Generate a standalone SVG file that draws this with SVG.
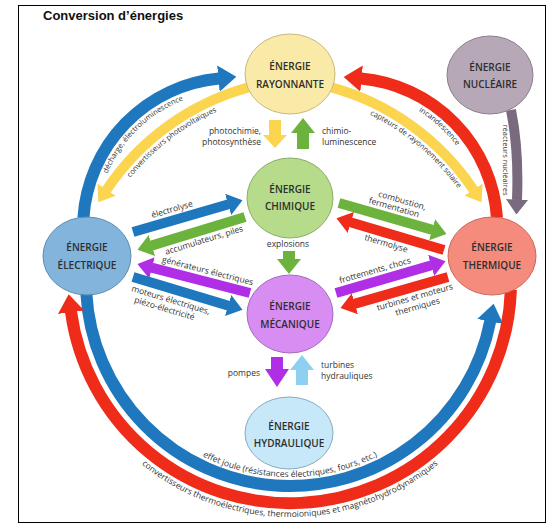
<svg xmlns="http://www.w3.org/2000/svg" width="552" height="530" viewBox="0 0 552 530">
<style>
.c{fill:none;stroke-linecap:butt}
.w12{stroke-width:12}
.w10{stroke-width:10}
.blue{stroke:#1f78be}
.red{stroke:#ef2b1a}
.yel{stroke:#fbd54f}
.grn{stroke:#6cb33e}
.pur{stroke:#b02fe6}
.gry{stroke:#7a6a7e}
.nt{font-family:"Open Sans","Liberation Sans",sans-serif;font-weight:600;font-size:10px;fill:#2e2e2e;text-anchor:middle}
.lb{font-family:"Open Sans","Liberation Sans",sans-serif;font-size:8.5px;fill:#333}
.sm{font-size:7.5px}
.mid{text-anchor:middle}
.end{text-anchor:end}
.node{stroke-width:1}
</style>
<defs>
<marker id="mBlue" viewBox="0 0 15 22" refX="0.5" refY="11" markerWidth="1.5" markerHeight="2.2" orient="auto" markerUnits="strokeWidth"><path d="M0,0 L15,11 L0,22 z" fill="#1f78be"/></marker>
<marker id="mRed" viewBox="0 0 15 22" refX="0.5" refY="11" markerWidth="1.5" markerHeight="2.2" orient="auto" markerUnits="strokeWidth"><path d="M0,0 L15,11 L0,22 z" fill="#ef2b1a"/></marker>
<marker id="mYel" viewBox="0 0 15 22" refX="0.5" refY="11" markerWidth="1.5" markerHeight="2.2" orient="auto" markerUnits="strokeWidth"><path d="M0,0 L15,11 L0,22 z" fill="#fbd54f"/></marker>
<marker id="mGrn" viewBox="0 0 15 22" refX="0.5" refY="11" markerWidth="1.5" markerHeight="2.2" orient="auto" markerUnits="strokeWidth"><path d="M0,0 L15,11 L0,22 z" fill="#6cb33e"/></marker>
<marker id="mPur" viewBox="0 0 15 22" refX="0.5" refY="11" markerWidth="1.5" markerHeight="2.2" orient="auto" markerUnits="strokeWidth"><path d="M0,0 L15,11 L0,22 z" fill="#b02fe6"/></marker>
<marker id="mGry" viewBox="0 0 15 22" refX="0.5" refY="11" markerWidth="1.5" markerHeight="2.2" orient="auto" markerUnits="strokeWidth"><path d="M0,0 L15,11 L0,22 z" fill="#7a6a7e"/></marker>
<path id="tpDecharge" d="M 102.8 185.5 A 137 137 0 0 1 195.3 96.1"/>
<path id="tpPhoto" d="M 108.5 209.5 A 238 238 0 0 1 253 98.6"/>
<path id="tpIncand" d="M 381 95.1 A 137 137 0 0 1 476 181.8"/>
<path id="tpCapteurs" d="M 327 98.6 A 238 238 0 0 1 481.1 227.9"/>
<path id="tpJoule" d="M 152.1 419.9 A 195 195 0 0 0 427.9 419.9"/>
<path id="tpConv" d="M 110 433.1 A 235 235 0 0 0 470 433.1"/>
</defs>
<rect x="18.5" y="5.5" width="527" height="517" fill="#fff" stroke="#000" stroke-width="1"/>
<text x="43" y="20" font-family="Liberation Sans, Arial, sans-serif" font-weight="bold" font-size="13" fill="#111">Conversion d’énergies</text>

<g id="connectors">
<path class="c w12 blue" d="M 83.4 218 A 150 150 0 0 1 219 78.5" marker-end="url(#mBlue)"/>
<path class="c w10 yel" d="M 248.6 87.4 A 250 250 0 0 0 106.4 190.1" marker-end="url(#mYel)"/>
<path class="c w12 red" d="M 497 218 A 150 150 0 0 0 361 78.5" marker-end="url(#mRed)"/>
<path class="c w10 yel" d="M 331.4 87.4 A 250 250 0 0 1 473.6 190.1" marker-end="url(#mYel)"/>
<path class="c w12 blue" d="M 86.3 292.7 A 204 204 0 0 0 490.3 320.8" marker-end="url(#mBlue)"/>
<path class="c w12 red" d="M 510.9 289.7 A 221 221 0 0 1 71 311.6" marker-end="url(#mRed)"/>
<path class="c w10 gry" d="M 511 110 Q 519 150 517 200" marker-end="url(#mGry)"/>
<path class="c w10 blue" d="M 133 232 L 228.6 204.2" marker-end="url(#mBlue)"/>
<path class="c w10 grn" d="M 245 217 L 151.4 245.6" marker-end="url(#mGrn)"/>
<path class="c w10 pur" d="M 250 293 L 151.5 267.7" marker-end="url(#mPur)"/>
<path class="c w10 blue" d="M 133 277 L 228.6 305.7" marker-end="url(#mBlue)"/>
<path class="c w10 grn" d="M 339 203 L 432.6 229.9" marker-end="url(#mGrn)"/>
<path class="c w10 red" d="M 444 250 L 350.4 222.3" marker-end="url(#mRed)"/>
<path class="c w10 pur" d="M 336 293 L 431.6 265.2" marker-end="url(#mPur)"/>
<path class="c w10 red" d="M 448 277 L 354.4 303.9" marker-end="url(#mRed)"/>
<polygon points="269,120 281,120 281,135 287,135 275,148 263,135 269,135" fill="#fbd54f"/>
<polygon points="303,118 315,133 309,133 309,149 297,149 297,133 291,133" fill="#6cb33e"/>
<polygon points="283,251 295,251 295,259 301,259 289,274 277,259 283,259" fill="#6cb33e"/>
<polygon points="271,357 283,357 283,369 289,369 277,387 265,369 271,369" fill="#b02fe6"/>
<polygon points="302,355 314,370 308,370 308,385 296,385 296,370 290,370" fill="#8ed0f2"/>
</g>

<g id="labels">
<text class="lb sm"><textPath href="#tpDecharge" startOffset="50%" text-anchor="middle">décharge, électroluminescence</textPath></text>
<text class="lb sm"><textPath href="#tpPhoto" startOffset="50%" text-anchor="middle">convertisseurs photovoltaïques</textPath></text>
<text class="lb sm"><textPath href="#tpIncand" startOffset="50%" text-anchor="middle">incandescence</textPath></text>
<text class="lb sm"><textPath href="#tpCapteurs" startOffset="50%" text-anchor="middle">capteurs de rayonnement solaire</textPath></text>
<text class="lb" font-size="8"><textPath href="#tpJoule" startOffset="50%" text-anchor="middle">effet joule (résistances électriques, fours, etc.)</textPath></text>
<text class="lb"><textPath href="#tpConv" startOffset="50%" text-anchor="middle">convertisseurs thermoélectriques, thermoioniques et magnétohydrodynamiques</textPath></text>
<text class="lb mid sm" transform="translate(503,160) rotate(90)">réacteurs nucléaires</text>

<text class="lb end" x="261" y="134">photochimie,</text>
<text class="lb end" x="261" y="144.5">photosynthèse</text>
<text class="lb" x="322" y="134">chimio-</text>
<text class="lb" x="322" y="144.5">luminescence</text>
<text class="lb mid" x="288" y="247">explosions</text>
<text class="lb end" x="260" y="376">pompes</text>
<text class="lb" x="321" y="368">turbines</text>
<text class="lb" x="321" y="378.5">hydrauliques</text>

<text class="lb mid" transform="translate(175,219.8) rotate(-16.2)" y="-8">électrolyse</text>
<text class="lb mid" transform="translate(201,230.4) rotate(-17)" y="13">accumulateurs, piles</text>
<text class="lb mid" transform="translate(205,281.4) rotate(14.4)" y="-8">générateurs électriques</text>
<g transform="translate(133,277) rotate(16.7)">
<text class="lb" x="2" y="14">moteurs électriques,</text>
<text class="lb" x="8" y="24">piézo-électricité</text>
</g>
<g transform="translate(393,218.5) rotate(16)">
<text class="lb mid" x="4" y="-17">combustion,</text>
<text class="lb mid" x="-2" y="-8">fermentation</text>
</g>
<text class="lb mid" transform="translate(389,233.7) rotate(16.5)" y="13">thermolyse</text>
<text class="lb mid" transform="translate(378,280.8) rotate(-16.2)" y="-8">frottements, chocs</text>
<g transform="translate(412,287.3) rotate(-16)">
<text class="lb mid" x="0" y="13">turbines et moteurs</text>
<text class="lb mid" x="0" y="23">thermiques</text>
</g>
</g>

<g id="n-rayonnante">
<ellipse class="node" cx="290" cy="74" rx="45" ry="40" fill="#faeaa7" stroke="#c9b87c"/>
<text class="nt" x="290" y="70">ÉNERGIE</text>
<text class="nt" x="290" y="88">RAYONNANTE</text>
</g>
<g id="n-nucleaire">
<ellipse class="node" cx="490" cy="75" rx="43" ry="39" fill="#b7a8b8" stroke="#8c7d8e"/>
<text class="nt" x="490" y="71">ÉNERGIE</text>
<text class="nt" x="490" y="88">NUCLÉAIRE</text>
</g>
<g id="n-chimique">
<ellipse class="node" cx="290" cy="198" rx="43" ry="40" fill="#b5db8b" stroke="#8aae6a"/>
<text class="nt" x="290" y="193">ÉNERGIE</text>
<text class="nt" x="290" y="210">CHIMIQUE</text>
</g>
<g id="n-electrique">
<ellipse class="node" cx="87" cy="256" rx="44" ry="39" fill="#82b4dc" stroke="#5a8db5"/>
<text class="nt" x="87" y="250.5">ÉNERGIE</text>
<text class="nt" x="87" y="268.5">ÉLECTRIQUE</text>
</g>
<g id="n-thermique">
<ellipse class="node" cx="492" cy="256" rx="44" ry="39" fill="#f58b7c" stroke="#c8685a"/>
<text class="nt" x="492" y="250.5">ÉNERGIE</text>
<text class="nt" x="492" y="268.5">THERMIQUE</text>
</g>
<g id="n-mecanique">
<ellipse class="node" cx="290" cy="314" rx="43" ry="39" fill="#d78df2" stroke="#a669be"/>
<text class="nt" x="290" y="309.5">ÉNERGIE</text>
<text class="nt" x="290" y="327.5">MÉCANIQUE</text>
</g>
<g id="n-hydraulique">
<ellipse class="node" cx="289" cy="433" rx="44" ry="36" fill="#c6e8f8" stroke="#86abc0"/>
<text class="nt" x="289" y="429.5">ÉNERGIE</text>
<text class="nt" x="289" y="446.5">HYDRAULIQUE</text>
</g>
</svg>
